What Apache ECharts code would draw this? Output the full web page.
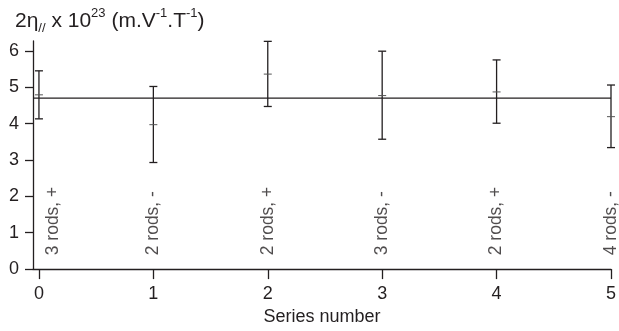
<!DOCTYPE html>
<html>
<head>
<meta charset="utf-8">
<script src="https://cdn.jsdelivr.net/npm/echarts@6/dist/echarts.min.js"></script>
<style>
  html, body { margin: 0; padding: 0; background: #fff; }
  #main { width: 619px; height: 331px; }
</style>
</head>
<body>
<div id="main"></div>
<script>
// data
var seriesNo = [0, 1, 2, 3, 4, 5];
var centers = [4.79, 3.97, 5.36, 4.77, 4.87, 4.19];
var lower = [4.13, 2.93, 4.47, 3.57, 4.01, 3.34];
var upper = [5.45, 5.02, 6.26, 5.99, 5.75, 5.06];
var meanValue = 4.70;
var labelX = [0.12, 1, 2, 3, 4, 5];
var labelY = 0.38;
var labelText = ['3 rods, +', '2 rods, -', '2 rods, +', '3 rods, -', '2 rods, +', '4 rods, -'];
var xTicks = [0, 1, 2, 3, 4, 5];
var yTicks = [0, 1, 2, 3, 4, 5, 6];
var xMin = -0.052, xMax = 5;
var yMin = 0, yMax = 6.27;

var ink = '#231f20';
var font = '"Liberation Sans", Arial, sans-serif';

var barData = seriesNo.map(function (x, i) {
  return [x, centers[i], lower[i], upper[i]];
});

var myChart = echarts.init(document.getElementById('main'));
myChart.setOption({
  animation: false,
  title: {
    left: 10,
    top: 2,
    text: '2η{sub|//} x 10{sup|23} (m.V{sup|-1}.T{sup|-1})',
    textStyle: {
      fontFamily: font,
      fontSize: 21,
      fontWeight: 'normal',
      color: ink,
      lineHeight: 28,
      rich: {
        sup: { fontFamily: font, fontSize: 13, color: ink, verticalAlign: 'top', lineHeight: 28 },
        sub: { fontFamily: font, fontSize: 13, color: ink, verticalAlign: 'bottom', lineHeight: 28 }
      }
    }
  },
  grid: { left: 33, right: 5, top: 41, bottom: 60, containLabel: false },
  xAxis: {
    type: 'value',
    min: xMin,
    max: xMax,
    name: 'Series number',
    nameLocation: 'middle',
    nameGap: 35,
    nameTextStyle: { fontFamily: font, fontSize: 18, color: ink },
    axisLine: { show: true, onZero: false, lineStyle: { color: ink, width: 1.3 } },
    axisTick: { show: true, length: 10, customValues: xTicks, lineStyle: { color: ink, width: 1.3 } },
    axisLabel: { customValues: xTicks, margin: 16, fontFamily: font, fontSize: 18, color: ink },
    splitLine: { show: false }
  },
  yAxis: {
    type: 'value',
    min: yMin,
    max: yMax,
    axisLine: { show: true, onZero: false, lineStyle: { color: ink, width: 1.3 } },
    axisTick: { show: true, length: 8, customValues: yTicks, lineStyle: { color: ink, width: 1.3 } },
    axisLabel: { customValues: yTicks, margin: 14, fontFamily: font, fontSize: 18, color: ink },
    splitLine: { show: false }
  },
  series: [{
    name: 'mean',
    type: 'line',
    symbol: 'none',
    lineStyle: { color: ink, width: 1.3 },
    data: [[xMin, meanValue], [xMax, meanValue]],
    z: 2
  }, {
    name: 'errors',
    type: 'custom',
    data: barData,
    renderItem: function (params, api) {
      var x = api.value(0);
      var c = api.coord([x, api.value(1)]);
      var lo = api.coord([x, api.value(2)]);
      var hi = api.coord([x, api.value(3)]);
      var w = 4;
      var style = { stroke: ink, lineWidth: 1.3 };
      return {
        type: 'group',
        children: [
          { type: 'line', shape: { x1: hi[0], y1: hi[1], x2: lo[0], y2: lo[1] }, style: style },
          { type: 'line', shape: { x1: hi[0] - w, y1: hi[1], x2: hi[0] + w, y2: hi[1] }, style: style },
          { type: 'line', shape: { x1: lo[0] - w, y1: lo[1], x2: lo[0] + w, y2: lo[1] }, style: style },
          { type: 'line', shape: { x1: c[0] - w, y1: c[1], x2: c[0] + w, y2: c[1] }, style: { stroke: '#555', lineWidth: 1 } }
        ]
      };
    },
    z: 3
  }, {
    name: 'labels',
    type: 'scatter',
    symbolSize: 1,
    itemStyle: { color: 'rgba(0,0,0,0)' },
    data: labelX.map(function (x, i) { return { value: [x, labelY], name: labelText[i] }; }),
    label: {
      show: true,
      position: 'inside',
      rotate: 90,
      align: 'left',
      verticalAlign: 'middle',
      formatter: '{b}',
      fontFamily: font,
      fontSize: 17.5,
      color: ink
    },
    z: 4
  }]
});
</script>
</body>
</html>
